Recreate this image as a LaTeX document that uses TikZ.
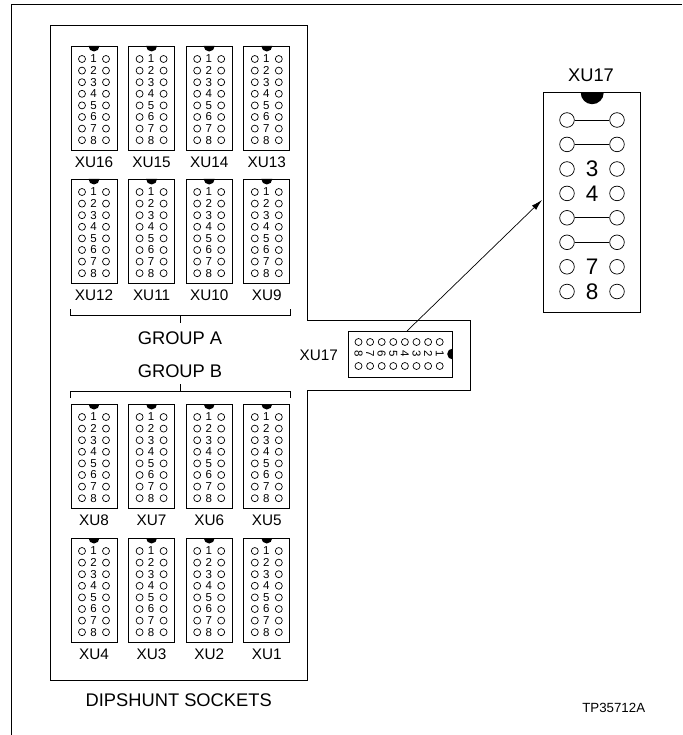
\documentclass[tikz,border=0pt]{standalone}
\usepackage{fontspec}
\setmainfont{Liberation Sans}
\usetikzlibrary{arrows.meta}

\tikzset{
    socketbox/.style={draw,line width=0.8pt,minimum width=46pt,minimum height=104pt,inner sep=0pt,outer sep=0pt},
    hole/.style={draw,line width=0.7pt},
    pindigit/.style={inner sep=0pt,font=\fontsize{11.5}{12}\selectfont},
    xulabel/.style={inner sep=0pt,font=\fontsize{15.3}{16}\selectfont},
    biglabel/.style={inner sep=0pt,font=\fontsize{18.3}{20}\selectfont},
    socket/.pic={
        \node[socketbox,transform shape] (box) at (0,0) {};
        \fill (-5.5,-52) arc[start angle=180,end angle=0,radius=5.5] -- cycle;
        \foreach \r in {1,...,8} {
            \draw[hole] ({-12},{-39+11.6*(\r-1)}) circle[radius=3.5];
            \draw[hole] ({12},{-39+11.6*(\r-1)}) circle[radius=3.5];
            \node[pindigit,transform shape] (pin\r) at ({-0.5},{-39+11.6*(\r-1)}) {\r};
        }
    }
}

\begin{document}
\begin{tikzpicture}[x=1pt,y=-1pt]
    \useasboundingbox (0,0) rectangle (682,735);
    \coordinate (tail) at (407,331);
    \coordinate (head) at (542,200);

    \draw[line width=1.1pt] (682,4.5)-- (11.5,4.5)-- (11.5,735);
    \draw[line width=0.8pt] (50.5,25.5)-- (307,25.5)-- (307,320)-- (470,320)-- (470,390)-- (307,390)-- (307,680)-- (50.5,680)-- cycle;

    % sockets of the two groups
    \foreach \n/\x/\y in {16/94/98,15/151.6/98,14/209.2/98,13/266.8/98,
        12/94/231,11/151.6/231,10/209.2/231,9/266.8/231,
        8/94/456,7/151.6/456,6/209.2/456,5/266.8/456,
        4/94/590,3/151.6/590,2/209.2/590,1/266.8/590} {
        \pic (xu\n) at (\x,\y) {socket};
        \node[xulabel] (lbl\n) at (\x,\y+64) {XU\n};
    }

    \draw[line width=0.7pt] (70.7,309)-- (70.7,315.7)-- (290,315.7)-- (290,309);
    \draw[line width=0.7pt] (180.3,315.7)-- (180.3,322.7);
    \draw[line width=0.7pt] (70.7,398)-- (70.7,391)-- (290,391)-- (290,398);
    \draw[line width=0.7pt] (180.3,391)-- (180.3,384);
    \node[biglabel] (groupa) at (180,338) {GROUP A};
    \node[biglabel] (groupb) at (180,371) {GROUP B};
    \node[biglabel] (title) at (178.7,700) {DIPSHUNT SOCKETS};
    \node[inner sep=0pt,font=\fontsize{13.3}{14}\selectfont] (tpnum) at (613.7,708) {TP35712A};

    % socket on its side
    \pic[rotate=-90] (xu17) at (400.7,354) {socket};
    \node[xulabel] (lbl17) at (318.7,355) {XU17};

    % enlarged socket
    \node[draw,line width=0.8pt,minimum width=97.3pt,minimum height=219.3pt,inner sep=0pt,outer sep=0pt] (bigbox) at (591.7,202.3) {};
    \node[biglabel] (biglbl) at (591,75) {XU17};
    \fill (580.7,92.7) arc[start angle=180,end angle=0,radius=11.5];
    \foreach \r/\y in {1/120,2/144.4,3/169,4/193.4,5/217.8,6/242.3,7/266.8,8/291.5} {
        \node[draw,circle,line width=0.7pt,minimum size=14.6pt,inner sep=0pt,fill=white] (la\r) at (567,\y) {};
        \node[draw,circle,line width=0.7pt,minimum size=14.6pt,inner sep=0pt,fill=white] (ri\r) at (617,\y) {};
    }
    \foreach \r in {1,2,5,6} \draw[line width=0.8pt] (la\r)-- (ri\r);
    \foreach \r/\y in {3/169,4/193.4,7/266.8,8/291.5}
        \node[inner sep=0pt,font=\fontsize{22.5}{24}\selectfont] (num\r) at (592,\y) {\r};

    \draw[-{Latex[length=11pt,width=6pt]},line width=0.7pt] (tail)-- (head);
\end{tikzpicture}
\end{document}
